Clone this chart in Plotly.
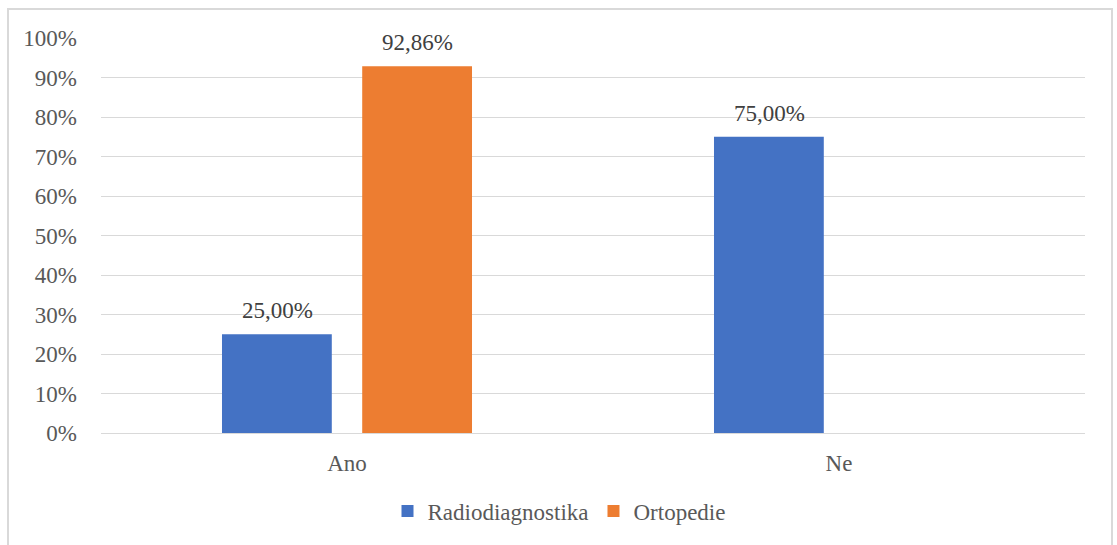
import plotly.graph_objects as go

categories = ["Ano", "Ne"]
radiodiagnostika = [25.00, 75.00]
ortopedie = [92.86, None]
y_ticks = [0, 10, 20, 30, 40, 50, 60, 70, 80, 90, 100]

W, H = 1117, 545
L, R, T, B = 101, 32, 38, 112
FONT = "Liberation Serif"
FS = 23
GRAY = "#595959"

series = [
    ("Radiodiagnostika", radiodiagnostika, "#4472C4", -70),
    ("Ortopedie", ortopedie, "#ED7D31", 70),
]

fig = go.Figure()
for name, vals, color, _ in series:
    fig.add_trace(go.Bar(
        x=categories, y=vals, name=name, marker_color=color,
        marker_line_width=0,
    ))

# value labels above each bar
for name, vals, color, dx in series:
    for cat, v in zip(categories, vals):
        if v is None:
            continue
        fig.add_annotation(
            x=cat, y=v, xref="x", yref="y",
            text=f"{v:.2f}%".replace(".", ","),
            showarrow=False, xanchor="center", yanchor="bottom",
            xshift=dx, yshift=9,
            font=dict(family=FONT, size=FS, color="#404040"),
        )

pw = W - L - R
ph = H - T - B
# outer chart border (bottom edge runs off the page)
fig.add_shape(type="rect", xref="paper", yref="paper",
              x0=(8 - L) / pw, x1=(1112 - L) / pw,
              y0=-(H + 20 - T - ph) / ph, y1=(H - 9 - B) / ph,
              line=dict(color="#D9D9D9", width=2), layer="below")

fig.update_layout(
    width=W, height=H,
    margin=dict(l=L, r=R, t=T, b=B),
    paper_bgcolor="white", plot_bgcolor="white",
    barmode="group", bargap=0.43, bargroupgap=0.217,
    font=dict(family=FONT, size=FS, color=GRAY),
    showlegend=True,
    legend=dict(orientation="h", x=(559 - L) / pw, xanchor="center",
                y=-(511 - T - ph) / ph, yanchor="middle",
                font=dict(family=FONT, size=FS, color=GRAY),
                tracegroupgap=0),
    xaxis=dict(showline=False, ticks="", showgrid=False,
               ticklabelstandoff=14,
               tickfont=dict(family=FONT, size=FS, color=GRAY)),
    yaxis=dict(range=[0, 100], tickvals=y_ticks,
               ticktext=[f"{v}%" for v in y_ticks],
               showgrid=True, gridcolor="#D9D9D9", gridwidth=1,
               zeroline=True, zerolinecolor="#D9D9D9", zerolinewidth=1,
               showline=False, ticks="", ticklabelstandoff=23,
               tickfont=dict(family=FONT, size=FS, color=GRAY)),
)

fig.write_html("out.html")
